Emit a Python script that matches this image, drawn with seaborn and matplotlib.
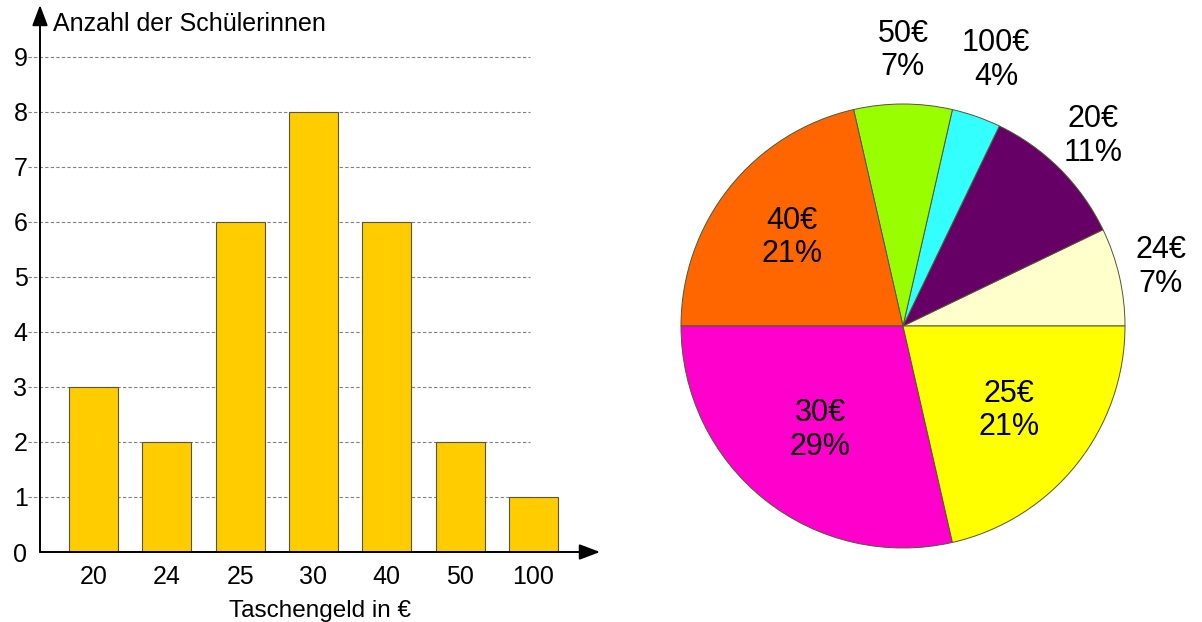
import numpy as np
import matplotlib
matplotlib.use("Agg")
import matplotlib.pyplot as plt
import seaborn as sns

# %% Data
categories = ['20', '24', '25', '30', '40', '50', '100']
counts = [3, 2, 6, 8, 6, 2, 1]
yticks = list(range(10))

# pie order (counterclockwise from 3 o'clock) and colours
pie_order = ['24', '20', '100', '50', '40', '30', '25']
pie_colors = ['#FFFFCC', '#660066', '#33FFFF', '#99FF00', '#FF6600', '#FF00CC', '#FFFF00']
label_dist = [1.19, 1.21, 1.27, 1.24, 0.64, 0.60, 0.61]

# %% Style
sns.set_theme(style='white')
plt.rcParams['font.family'] = ['Liberation Sans', 'DejaVu Sans']
plt.rcParams.update({'text.color': 'black', 'axes.labelcolor': 'black',
                     'xtick.color': 'black', 'ytick.color': 'black'})

fig = plt.figure(figsize=(12.02, 6.22), dpi=100)

# %% Bar chart
ax = fig.add_axes([40/1202, 70/622, 560/1202, 547/622])
for y in yticks[1:]:
    ax.hlines(y, -0.893, 5.95, colors='#808080', linestyles=(0, (3, 2)), lw=0.8, clip_on=False, zorder=0)

sns.barplot(x=categories, y=counts, order=categories, color='#FFCC00', saturation=1,
            edgecolor='#555544', linewidth=0.8, width=0.67, ax=ax, zorder=2)

ax.set_xlim(-0.7296, 6.907)
ax.set_ylim(0, 9.945)
ax.set_yticks(yticks)
ax.tick_params(axis='both', length=0, labelsize=18)
ax.tick_params(axis='y', pad=9)
ax.tick_params(axis='x', pad=9)
for s in ax.spines.values():
    s.set_visible(False)
ax.set_facecolor('none')

arrow = dict(arrowstyle='-|>,head_length=0.45,head_width=0.17', color='black', lw=1.4,
             mutation_scale=28, shrinkA=0, shrinkB=0)
ax.annotate('', xy=(1, 0), xytext=(0, 0), xycoords='axes fraction', arrowprops=arrow)
ax.annotate('', xy=(0, 1), xytext=(0, 0), xycoords='axes fraction', arrowprops=arrow)

ax.set_xlabel('Taschengeld in €', fontsize=17.5, labelpad=8)
ax.set_ylabel('')
fig.text(53/1202, 1 - 24/622, 'Anzahl der Schülerinnen', fontsize=18, ha='left', va='center')

# %% Pie chart
pie_vals = [counts[categories.index(c)] for c in pie_order]
total = sum(pie_vals)

ax2 = fig.add_axes([(903 - 280)/1202, (296 - 280)/622, 560/1202, 560/622])
wedges, _ = ax2.pie(pie_vals, colors=pie_colors, startangle=0, counterclock=True,
                    wedgeprops=dict(edgecolor='#555533', linewidth=0.7))
for w, c, v, d in zip(wedges, pie_order, pie_vals, label_dist):
    mid = np.deg2rad((w.theta1 + w.theta2) / 2)
    ax2.text(d*np.cos(mid), d*np.sin(mid), f'{c}€\n{round(100*v/total)}%',
             ha='center', va='center', fontsize=22, linespacing=1.15)
ax2.set_xlim(-1.2613, 1.2613)
ax2.set_ylim(-1.2613, 1.2613)
ax2.set_aspect('equal')
ax2.axis('off')

plt.savefig('out.png', dpi=100)
